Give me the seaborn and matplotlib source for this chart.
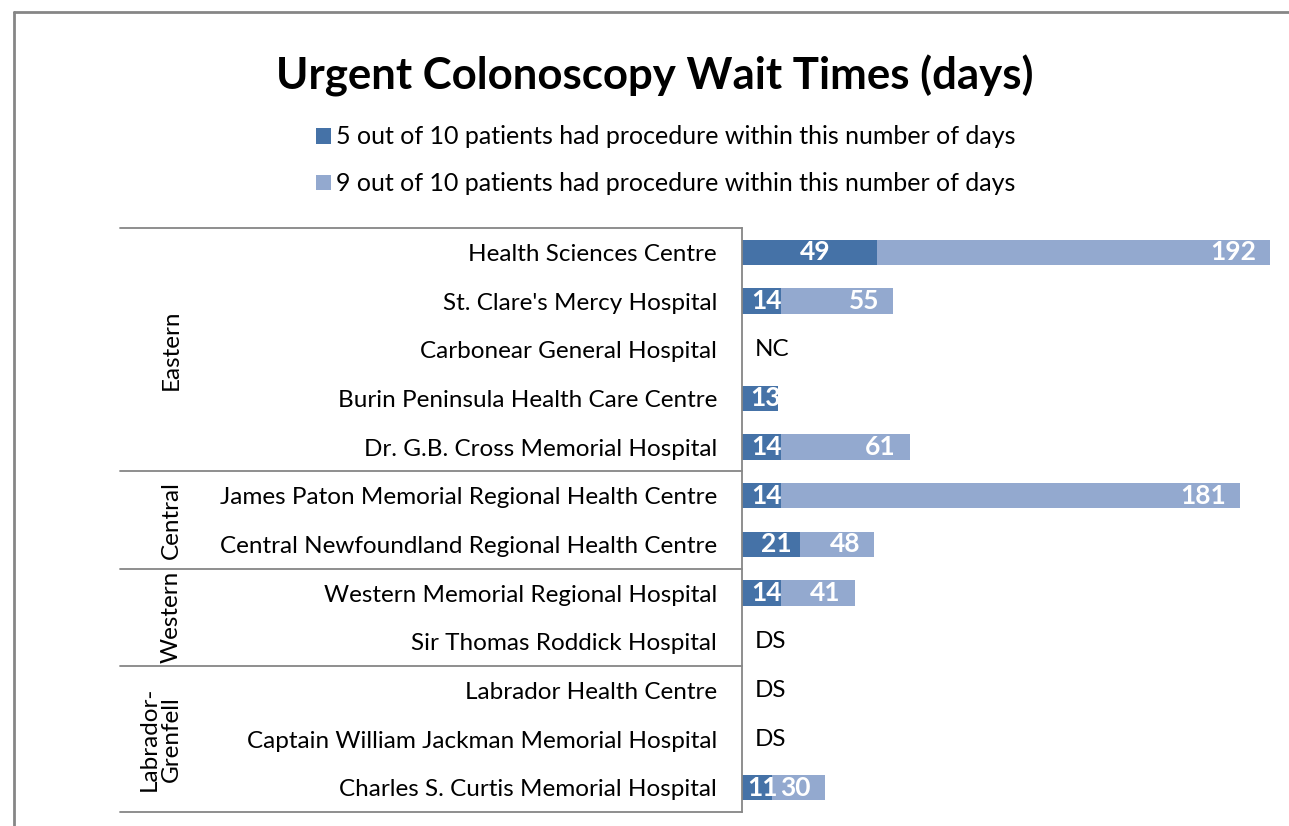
import pandas as pd
import numpy as np
import matplotlib
matplotlib.use("Agg")
import matplotlib.pyplot as plt
import matplotlib.transforms as mtrans
from matplotlib.lines import Line2D
import seaborn as sns

# data
hospitals = [
    "Health Sciences Centre",
    "St. Clare's Mercy Hospital",
    "Carbonear General Hospital",
    "Burin Peninsula Health Care Centre",
    "Dr. G.B. Cross Memorial Hospital",
    "James Paton Memorial Regional Health Centre",
    "Central Newfoundland Regional Health Centre",
    "Western Memorial Regional Hospital",
    "Sir Thomas Roddick Hospital",
    "Labrador Health Centre",
    "Captain William Jackman Memorial Hospital",
    "Charles S. Curtis Memorial Hospital",
]
median_days = [49, 14, np.nan, 13, 14, 14, 21, 14, np.nan, np.nan, np.nan, 11]
p90_days = [192, 55, np.nan, np.nan, 61, 181, 48, 41, np.nan, np.nan, np.nan, 30]
notes = ["", "", "NC", "", "", "", "", "", "DS", "DS", "DS", ""]

regions = ["Eastern", "Central", "Western", "Labrador-\nGrenfell"]
region_rows = [(0, 4), (5, 6), (7, 8), (9, 11)]

lbl_50 = "5 out of 10 patients had procedure within this number of days"
lbl_90 = "9 out of 10 patients had procedure within this number of days"
dark = "#4572A7"
light = "#93A9CF"

df = pd.concat([
    pd.DataFrame({"hospital": hospitals, "days": p90_days, "series": lbl_90}),
    pd.DataFrame({"hospital": hospitals, "days": median_days, "series": lbl_50}),
]).dropna()

sns.set_style("white")
plt.rcParams["font.family"] = ["Lato", "DejaVu Sans"]
plt.rcParams["text.color"] = "black"

W, H = 1289, 826
fig = plt.figure(figsize=(W / 100, H / 100), dpi=100)
ax = fig.add_axes([742 / W, 14 / H, 547 / W, 584 / H])

sns.barplot(data=df, y="hospital", x="days", hue="series", order=hospitals,
            hue_order=[lbl_90, lbl_50], palette=[light, dark], dodge=False,
            width=0.52, errorbar=None, ax=ax, saturation=1, linewidth=0)

ax.set_xlim(0, 547 / 2.75)
ax.set_ylim(11.5, -0.5)
ax.set_xlabel("")
ax.set_ylabel("")
ax.set_xticks([])
for s in ["top", "right", "bottom"]:
    ax.spines[s].set_visible(False)
ax.spines["left"].set_color("#868686")
ax.spines["left"].set_linewidth(1.3)
ax.tick_params(axis="y", length=0, pad=18, labelsize=17.5, labelcolor="black")

# value labels
for i in range(len(hospitals)):
    m, p = median_days[i], p90_days[i]
    if not np.isnan(p):
        ax.annotate(f"{p:g}", (p, i), xytext=(-10, 0), textcoords="offset points",
                    ha="right", va="center", color="white", fontweight="bold", fontsize=19)
    if not np.isnan(m):
        ax.annotate(f"{m:g}", (m / 2, i), xytext=(4, 0), textcoords="offset points",
                    ha="center", va="center", color="white", fontweight="bold", fontsize=19)
    if notes[i]:
        ax.annotate(notes[i], (0, i), xytext=(9, 0), textcoords="offset points",
                    ha="left", va="center", color="black", fontsize=17.5)

# region brackets
tr = mtrans.blended_transform_factory(fig.transFigure, ax.transData)
for y in [-0.5, 4.5, 6.5, 8.5, 11.5]:
    fig.add_artist(Line2D([120 / W, 742 / W], [y, y], transform=tr, color="#868686", lw=1.3))
for name, (a, b) in zip(regions, region_rows):
    xpos = 160 if "\n" in name else 171
    fig.text(xpos / W, (a + b) / 2, name, transform=tr, rotation=90,
             ha="center", va="center", fontsize=17.5, multialignment="center", linespacing=1.05)

# legend
handles, labels = ax.get_legend_handles_labels()
ax.get_legend().remove()
fig.legend(handles[::-1], labels[::-1], loc="upper left",
           bbox_to_anchor=(293 / W, 1 - 103 / H), frameon=False, fontsize=18,
           handlelength=0.6, handleheight=0.6, handletextpad=0.2, labelspacing=0.95)

fig.text(655 / W, 1 - 76 / H, "Urgent Colonoscopy Wait Times (days)",
         ha="center", va="center", fontsize=31.5, fontweight="bold")

# chart border
fig.add_artist(Line2D([14 / W, 1.0], [1 - 12 / H, 1 - 12 / H], color="#868686", lw=2))
fig.add_artist(Line2D([14 / W, 14 / W], [0, 1 - 12 / H], color="#868686", lw=2))

fig.savefig("out.png", dpi=100)
